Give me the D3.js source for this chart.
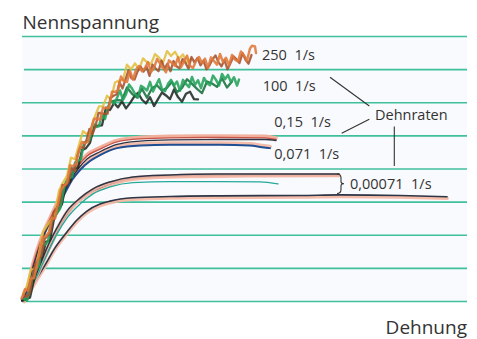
<!DOCTYPE html>
<html><head><meta charset="utf-8">
<script src="https://cdn.jsdelivr.net/npm/d3@7"></script>
<style>
body{margin:0;background:#fff}
svg{display:block}
text{font-family:"Open Sans",sans-serif;fill:#333;white-space:pre}
</style>
</head><body><svg id="c" width="477" height="339"></svg>
<script>
// ---- data (strain u, nominal stress v) ----
const gridTicks = [0,10,20,30,40,50,60,70,80];

const rate250a = [[0,1.0],[0.3,3.7],[0.6,3.3],[0.9,7.1],[1.2,7.0],[1.5,10.8],[1.8,15.4],[2.1,19.4],[2.4,19.7],[2.7,21.0],[3.0,25.3],[3.3,25.0],[3.6,29.5],[3.9,33.8],[4.2,34.9],[4.5,35.9],[4.8,41.1],[5.1,40.9],[5.4,41.5],[5.7,45.8],[6.0,48.2],[6.3,47.8],[6.6,48.2],[6.9,52.1],[7.2,55.2],[7.5,55.2],[7.8,54.8],[8.1,58.5],[8.4,58.4],[8.7,58.5],[9.0,63.3],[9.3,63.3],[9.6,63.7],[9.9,67.9],[10.2,66.5],[10.5,66.3],[10.8,69.6],[11.1,67.0],[11.4,70.0],[11.7,71.1],[12.0,69.5],[12.3,70.5],[12.6,72.3],[12.9,69.3],[13.2,70.5],[13.5,73.2],[13.8,71.9],[14.1,70.4],[14.4,69.2],[14.7,72.8],[15.0,72.0],[15.3,71.1],[15.6,73.7],[15.9,70.7],[16.2,72.5],[16.5,74.2],[16.8,71.2],[17.1,70.5],[17.4,72.6],[17.7,73.8],[18.0,72.0],[18.3,73.3],[18.6,70.5],[18.9,73.7],[19.2,72.6],[19.5,71.5],[19.8,74.7],[20.1,72.3],[20.4,73.6],[20.7,71.3],[21.0,74.4],[21.3,73.0],[21.6,72.5],[21.9,75.5],[22.2,74.3],[22.5,72.7],[22.8,76.4],[23.0,77.2],[23.3,77.0],[23.4,75.0]];
const rate250b = [[0.15,2.0],[0.45,1.4],[0.75,2.3],[1.05,7.1],[1.35,11.3],[1.65,12.7],[1.95,13.8],[2.25,18.8],[2.55,19.8],[2.85,21.0],[3.15,26.9],[3.45,28.1],[3.75,29.7],[4.05,35.2],[4.35,35.0],[4.65,36.0],[4.95,40.4],[5.25,39.4],[5.55,44.1],[5.85,46.6],[6.15,46.4],[6.45,48.7],[6.75,52.1],[7.05,50.5],[7.35,53.0],[7.65,56.9],[7.95,56.9],[8.25,56.6],[8.55,56.7],[8.85,61.5],[9.15,62.1],[9.45,62.5],[9.75,66.2],[10.05,64.3],[10.35,67.0],[10.65,69.8],[10.95,67.4],[11.25,67.0],[11.55,69.4],[11.85,70.9],[12.15,69.4],[12.45,70.9],[12.75,68.1],[13.05,71.5],[13.35,70.4],[13.65,69.5],[13.95,72.7],[14.25,70.3],[14.55,71.8],[14.85,69.5],[15.15,72.6],[15.45,71.0],[15.75,70.4],[16.05,73.2],[16.35,72.0],[16.65,70.3],[16.95,73.8],[17.25,72.2],[17.55,73.5],[17.85,71.3],[18.15,72.7],[18.45,70.1],[18.75,71.3],[19.05,73.1],[19.35,74.3],[19.65,72.2],[19.95,71.0],[20.25,72.9],[20.55,70.1],[20.85,72.0],[21.15,74.0],[21.45,73.1],[21.75,72.0],[22.05,75.0],[22.35,73.0],[22.65,71.8],[22.95,74.4]];
const rate250c = [[0.1,2.1],[0.5,4.7],[0.9,9.7],[1.3,9.8],[1.7,14.7],[2.1,21.0],[2.5,22.9],[2.9,24.6],[3.3,26.7],[3.7,33.5],[4.1,35.9],[4.5,37.9],[4.9,43.4],[5.3,43.0],[5.7,47.3],[6.1,51.4],[6.5,50.5],[6.9,51.9],[7.3,56.0],[7.7,58.9],[8.1,59.0],[8.5,62.1],[8.9,61.0],[9.3,66.1],[9.7,66.7],[10.1,66.9],[10.5,71.5],[10.9,70.1],[11.3,71.9],[11.7,70.0],[12.1,73.4],[12.5,72.2],[12.9,71.7],[13.3,74.7],[13.7,73.6],[14.1,72.0],[14.5,75.6],[14.9,74.1],[15.3,75.4],[15.7,73.3],[16.1,74.6],[16.5,72.1],[16.9,73.3]];
const rate100a = [[0.2,0.7],[0.5,0.3],[0.8,3.6],[1.1,7.9],[1.4,9.4],[1.7,10.9],[2.0,16.7],[2.3,17.1],[2.6,18.2],[2.9,23.1],[3.2,26.2],[3.5,26.7],[3.8,28.0],[4.1,32.6],[4.4,36.5],[4.7,37.3],[5.0,37.6],[5.3,41.9],[5.6,42.4],[5.9,43.0],[6.2,48.0],[6.5,48.3],[6.8,49.0],[7.1,53.8],[7.4,52.7],[7.7,52.9],[8.0,56.6],[8.3,55.1],[8.6,58.8],[8.9,60.6],[9.2,59.7],[9.5,61.4],[9.8,63.7],[10.1,60.9],[10.4,62.5],[10.7,65.5],[11.0,64.3],[11.3,62.7],[11.6,61.6],[11.9,65.1],[12.2,64.5],[12.5,63.7],[12.8,66.3],[13.1,63.4],[13.4,65.3],[13.7,67.1],[14.0,64.1],[14.3,63.5],[14.6,65.7],[14.9,66.9],[15.2,65.2],[15.5,66.4],[15.8,63.6],[16.1,66.9],[16.4,65.7],[16.7,64.7],[17.0,67.8],[17.3,65.4],[17.6,66.8],[17.9,64.4],[18.2,67.5],[18.5,65.9],[18.8,65.3],[19.1,68.2],[19.4,66.9],[19.7,65.2],[20.0,68.7],[20.3,67.1],[20.6,68.4],[20.9,66.2],[21.2,67.7],[21.5,65.2],[21.7,67.0]];
const rate100b = [[0,0.2],[0.4,0.6],[0.8,1.2],[1.2,6.6],[1.6,11.3],[2.0,13.4],[2.4,18.0],[2.8,18.5],[3.2,25.0],[3.6,27.3],[4.0,29.4],[4.4,35.6],[4.8,36.1],[5.2,40.0],[5.6,40.3],[6.0,45.7],[6.4,46.3],[6.8,47.9],[7.2,52.7],[7.6,53.1],[8.0,53.2],[8.4,58.5],[8.8,57.8],[9.2,59.9],[9.6,58.6],[10.0,60.4],[10.4,58.3],[10.8,59.9],[11.2,61.8],[11.6,63.0],[12.0,60.9],[12.4,59.8],[12.8,61.7],[13.2,59.0],[13.6,61.1],[14.0,63.1],[14.4,62.2],[14.8,61.1],[15.2,64.0],[15.6,61.7],[16.0,60.3],[16.4,62.7],[16.8,63.3],[17.2,61.1],[17.6,61.0]];
const rate100c = [[9.0,60.4],[9.5,60.8],[10.0,60.7],[10.5,64.6],[11.0,62.7],[11.5,61.6],[12.0,64.2],[12.5,61.5],[13.0,64.4],[13.5,65.3],[14.0,63.6],[14.5,64.5],[15.0,66.3],[15.5,63.2],[16.0,64.5],[16.5,67.1],[17.0,65.7],[17.5,64.2],[18.0,62.9],[18.5,66.4],[19.0,65.8],[19.5,64.8],[20.0,67.4],[20.5,64.6],[21.0,66.4]];

const rate015u = [0,0.5,1.1,2.1,3.1,4.1,4.8,5.6,6.5,7.8,9.5,11.8,14.8,19.8,24.3,25.4];
const rate015red  = [0.45,3.5,11.0,20.1,26.7,33.1,37.3,40.9,43.9,46.0,48.2,49.1,49.4,49.5,49.4,48.9];
const rate015dark = [0.45,3.2,10.4,19.4,26.0,32.3,36.4,40.0,43.0,45.2,47.4,48.4,48.8,48.9,48.9,48.6];
const rate0071u = [0,0.6,1.2,2.2,3.3,4.3,5.0,5.8,6.8,7.8,9.5,11.8,14.8,19.8,22.8,24.0,24.8];
const rate0071v = [0.45,3.5,11.0,20.1,26.7,32.8,36.7,39.7,42.4,44.2,46.3,47.1,47.3,47.3,47.1,46.6,46.3];
const slowTopU = [0.2,0.7,1.2,1.8,2.5,3.5,4.5,5.8,7.1,8.8,11.1,14.8,19.5,31.7];
const slowTopV = [0.45,3.5,6.5,11.0,16.2,22.2,27.3,31.2,34.0,36.1,37.6,38.2,38.5,38.5];
const slowMidU = [0.2,0.8,1.4,2.1,3.0,4.0,5.1,6.4,7.8,9.8,12.8,17.8,23.8,31.7];
const slowMidV = [0.45,3.5,7.1,11.9,18.0,24.0,28.8,32.2,34.3,36.4,37.6,38.0,38.2,38.3];
const slowTealU = [0.2,0.8,1.4,2.0,2.7,3.5,4.5,5.8,7.1,8.8,11.1,14.8,19.8,23.8,25.6];
const slowTealV = [0.45,3.5,7.1,11.0,15.5,20.4,25.2,29.4,32.5,34.6,35.9,36.2,36.2,36.1,35.5];
const slowLowU = [0.2,0.8,1.5,2.3,3.3,4.5,5.5,6.5,7.8,8.8,11.1,14.8,19.8,27.8,31.8,37.8,42.5];
const slowLowV = [0.45,3.5,7.1,11.0,16.2,21.0,24.6,27.3,29.4,30.3,31.3,31.7,31.9,32.0,32.2,32.0,31.6];

const rateLabels = ["250  1/s","100  1/s","0,15  1/s","0,071  1/s","0,00071  1/s"];
const labelPos = [[24.0,72.9],[24.07,63.5],[25.23,52.8],[25.23,42.9],[32.8,34.05]];

// ---- drawing ----
const svg = d3.select("#c");
const x = d3.scaleLinear().domain([0,44.5]).range([22,467]);
const y = d3.scaleLinear().domain([0,80]).range([301.5,36.5]);

svg.append("rect").attr("x",x(0)).attr("y",y(80)).attr("width",x(44.5)-x(0)).attr("height",y(0)-y(80)).attr("fill","#f9fafd");

svg.append("g").selectAll("line").data(gridTicks).join("line")
  .attr("x1",d=>x(d===70?0.2:0)).attr("x2",x(44.5))
  .attr("y1",d=>y(d)).attr("y2",d=>y(d))
  .attr("stroke","#3fbf9c").attr("stroke-width",1.6);

const zip = (us,vs)=>us.map((u,i)=>[u,vs[i]]);
const smooth = d3.line().x(d=>x(d[0])).y(d=>y(d[1])).curve(d3.curveMonotoneX);
const jag = d3.line().x(d=>x(d[0])).y(d=>y(d[1]));

const g = svg.append("g").attr("fill","none").attr("stroke-linejoin","round").attr("stroke-linecap","round");

function shadowed(data, color, w, dy){
  g.append("path").attr("d",smooth(data)).attr("stroke","#f3b5a2").attr("stroke-width",w+2).attr("transform",`translate(0,${dy})`).attr("opacity",0.9);
  g.append("path").attr("d",smooth(data)).attr("stroke",color).attr("stroke-width",w);
}
// slow curves
shadowed(zip(slowLowU,slowLowV),"#2c3646",1.6,1.5);
shadowed(zip(slowMidU,slowMidV),"#3a4452",1.1,1);
shadowed(zip(slowTopU,slowTopV),"#2c3646",1.5,1);
g.append("path").attr("d",smooth(zip(slowTealU,slowTealV))).attr("stroke","#26a99b").attr("stroke-width",1.3);
// 0,071 and 0,15
shadowed(zip(rate0071u,rate0071v),"#1f4f92",2,-1.5);
g.append("path").attr("d",smooth(zip(rate015u,rate015red))).attr("stroke","#f1b09c").attr("stroke-width",3.5).attr("transform","translate(0,-1.5)");
g.append("path").attr("d",smooth(zip(rate015u,rate015red))).attr("stroke","#c8554a").attr("stroke-width",1.4);
g.append("path").attr("d",smooth(zip(rate015u,rate015dark))).attr("stroke","#2e3442").attr("stroke-width",1.3);

// noisy high rate curves
const noisy = [[rate100b,"#1c2a22",2.3],[rate100c,"#17703e",2.3],[rate100a,"#22a35a",2.5],[rate250c,"#e2bf3e",2.3],[rate250b,"#a4512d",2.3],[rate250a,"#e0773a",2.5]];
noisy.forEach(([d,c,w])=>{
  g.append("path").attr("d",jag(d)).attr("stroke",c).attr("stroke-width",w).attr("opacity",0.88);
});

// brace at 0,00071
const bx = x(31.7), by1 = y(38.5), by2 = y(32.6), bm=(by1+by2)/2;
const bp = d3.path();
bp.moveTo(bx-2,by1); bp.quadraticCurveTo(bx+2,by1,bx+2,by1+4); bp.lineTo(bx+2,bm-2);
bp.quadraticCurveTo(bx+2,bm,bx+5,bm); bp.quadraticCurveTo(bx+2,bm,bx+2,bm+2);
bp.lineTo(bx+2,by2-4); bp.quadraticCurveTo(bx+2,by2,bx-2,by2);
svg.append("path").attr("d",bp.toString()).attr("fill","none").attr("stroke","#333").attr("stroke-width",1.1);

// leader lines
const leaders = [[[30.8,67.7],[34.73,59.0]],[[31.97,50.8],[34.73,55.0]],[[37.23,52.8],[37.23,40.9]]];
svg.append("g").selectAll("line").data(leaders).join("line")
  .attr("x1",d=>x(d[0][0])).attr("y1",d=>y(d[0][1]))
  .attr("x2",d=>x(d[1][0])).attr("y2",d=>y(d[1][1]))
  .attr("stroke","#333").attr("stroke-width",1.1);

// labels
svg.append("g").selectAll("text").data(rateLabels).join("text")
  .attr("x",(d,i)=>x(labelPos[i][0])).attr("y",(d,i)=>y(labelPos[i][1]))
  .attr("font-size",14.5).text(d=>d);
svg.append("text").attr("x",x(35.3)).attr("y",y(54.8)).attr("font-size",14.5).text("Dehnraten");

svg.append("text").attr("x",22.5).attr("y",29.3).attr("font-size",19).text("Nennspannung");
svg.append("text").attr("x",467).attr("y",334).attr("font-size",19).attr("text-anchor","end").text("Dehnung");
</script>
</body></html>
